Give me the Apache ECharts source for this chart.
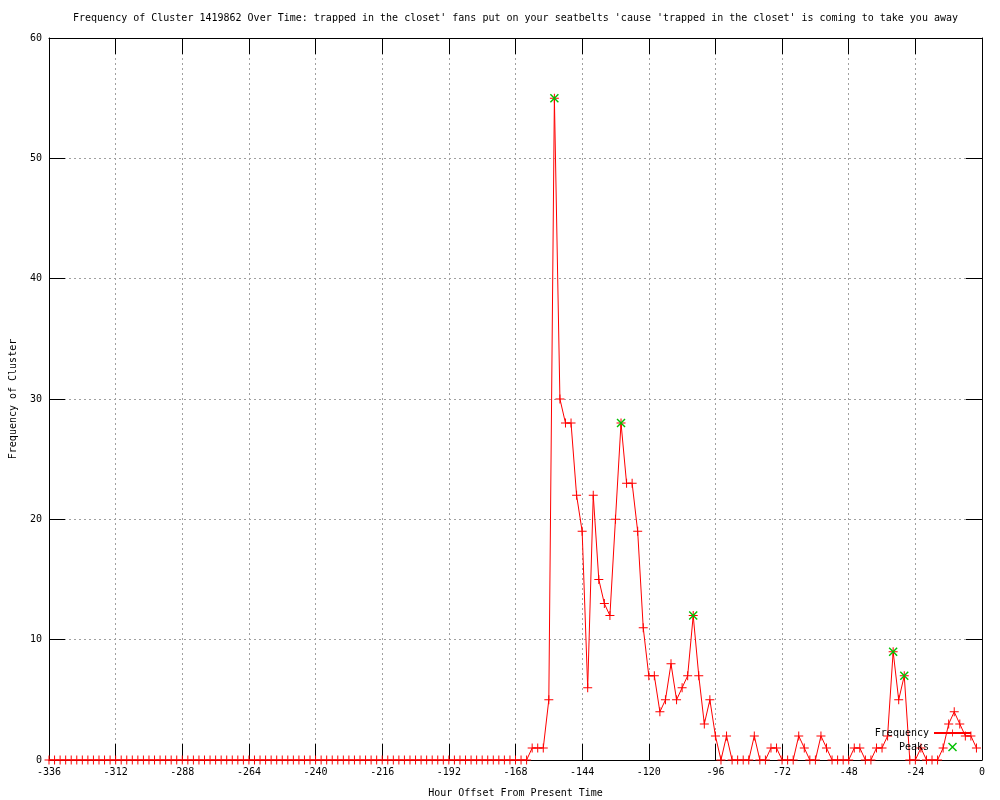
<!DOCTYPE html>
<html>
<head>
<meta charset="utf-8">
<script src="https://cdn.jsdelivr.net/npm/echarts@6/dist/echarts.min.js"></script>
<style>
html,body{margin:0;padding:0;background:#fff;}
#chart{width:1000px;height:800px;}
</style>
</head>
<body>
<div id="chart"></div>
<script>
var titleText = "Frequency of Cluster 1419862 Over Time: trapped in the closet' fans put on your seatbelts 'cause 'trapped in the closet' is coming to take you away";
var xAxisName = "Hour Offset From Present Time";
var yAxisName = "Frequency of Cluster";

var hours = [-336,-334,-332,-330,-328,-326,-324,-322,-320,-318,-316,-314,-312,-310,-308,-306,-304,-302,-300,-298,
-296,-294,-292,-290,-288,-286,-284,-282,-280,-278,-276,-274,-272,-270,-268,-266,-264,-262,-260,-258,
-256,-254,-252,-250,-248,-246,-244,-242,-240,-238,-236,-234,-232,-230,-228,-226,-224,-222,-220,-218,
-216,-214,-212,-210,-208,-206,-204,-202,-200,-198,-196,-194,-192,-190,-188,-186,-184,-182,-180,-178,
-176,-174,-172,-170,-168,-166,-164,-162,-160,-158,-156,-154,-152,-150,-148,-146,-144,-142,-140,-138,
-136,-134,-132,-130,-128,-126,-124,-122,-120,-118,-116,-114,-112,-110,-108,-106,-104,-102,-100,-98,
-96,-94,-92,-90,-88,-86,-84,-82,-80,-78,-76,-74,-72,-70,-68,-66,-64,-62,-60,-58,
-56,-54,-52,-50,-48,-46,-44,-42,-40,-38,-36,-34,-32,-30,-28,-26,-24,-22,-20,-18,
-16,-14,-12,-10,-8,-6,-4,-2];

var frequency = [0,0,0,0,0,0,0,0,0,0,
0,0,0,0,0,0,0,0,0,0,
0,0,0,0,0,0,0,0,0,0,
0,0,0,0,0,0,0,0,0,0,
0,0,0,0,0,0,0,0,0,0,
0,0,0,0,0,0,0,0,0,0,
0,0,0,0,0,0,0,0,0,0,
0,0,0,0,0,0,0,0,0,0,
0,0,0,0,0,0,0,
1,1,1,5,55,30,28,28,22,19,
6,22,15,13,12,20,28,23,23,19,
11,7,7,4,5,8,5,6,7,12,
7,3,5,2,0,2,0,0,0,0,
2,0,0,1,1,0,0,0,2,1,
0,0,2,1,0,0,0,0,1,1,
0,0,1,1,2,9,5,7,0,0,
1,0,0,0,1,3,4,3,2,2,
1];

var peakHours = [-154,-130,-104,-32,-28];
var peakValues = [55,28,12,9,7];

var xTicks = {min:-336, max:0, interval:24};
var yTicks = {min:0, max:60, interval:10};

var freqData = hours.map(function(h,i){return [h, frequency[i]];});
var peakData = peakHours.map(function(h,i){return [h, peakValues[i]];});

var MONO = "'DejaVu Sans Mono', monospace";
var plusPath = 'path://M0,4H9V5H0Z M4,0H5V9H4Z';
var crossPath = 'path://M0,1L1,0L9,8L8,9Z M8,0L9,1L1,9L0,8Z';
var grid = {color:'#a0a0a0', type:[2,3], width:1};

var chart = echarts.init(document.getElementById('chart'), null, {renderer:'canvas'});
chart.setOption({
  animation:false,
  backgroundColor:'#ffffff',
  title:{text:titleText, left:73, top:13, padding:0,
    textStyle:{fontFamily:MONO, fontSize:10, fontWeight:'normal', color:'#000'}},
  grid:{left:49, right:18, top:38, bottom:40, containLabel:false, outerBoundsMode:'none'},
  legend:{
    data:['Frequency','Peaks'], orient:'vertical', right:28, top:728,
    align:'right', itemWidth:37, itemHeight:9, itemGap:4, padding:0,
    textStyle:{fontFamily:MONO, fontSize:10, color:'#000'}
  },
  xAxis:[
    {type:'value', min:xTicks.min, max:xTicks.max, interval:xTicks.interval, position:'bottom',
     name:xAxisName, nameLocation:'middle', nameGap:28,
     nameTextStyle:{fontFamily:MONO, fontSize:10, color:'#000'},
     axisLine:{show:true, onZero:false, lineStyle:{color:'#000', width:1}},
     axisTick:{show:true, inside:true, length:16, lineStyle:{color:'#000'}},
     axisLabel:{fontFamily:MONO, fontSize:10, color:'#000', margin:7},
     splitLine:{show:true, lineStyle:grid}},
    {type:'value', min:xTicks.min, max:xTicks.max, interval:xTicks.interval, position:'top',
     axisLine:{show:true, onZero:false, lineStyle:{color:'#000', width:1}},
     axisTick:{show:true, inside:true, length:16, lineStyle:{color:'#000'}},
     axisLabel:{show:false}, splitLine:{show:false}}
  ],
  yAxis:[
    {type:'value', min:yTicks.min, max:yTicks.max, interval:yTicks.interval, position:'left',
     name:yAxisName, nameLocation:'middle', nameGap:31, nameRotate:90,
     nameTextStyle:{fontFamily:MONO, fontSize:10, color:'#000'},
     axisLine:{show:true, onZero:false, lineStyle:{color:'#000', width:1}},
     axisTick:{show:true, inside:true, length:16, lineStyle:{color:'#000'}},
     axisLabel:{fontFamily:MONO, fontSize:10, color:'#000', margin:7},
     splitLine:{show:true, lineStyle:grid}},
    {type:'value', min:yTicks.min, max:yTicks.max, interval:yTicks.interval, position:'right',
     axisLine:{show:true, onZero:false, lineStyle:{color:'#000', width:1}},
     axisTick:{show:true, inside:true, length:16, lineStyle:{color:'#000'}},
     axisLabel:{show:false}, splitLine:{show:false}}
  ],
  series:[
    {name:'Frequency', type:'line', xAxisIndex:0, yAxisIndex:0, data:freqData,
     symbol:plusPath, symbolSize:9, showAllSymbol:true, clip:false,
     lineStyle:{color:'#ff0000', width:1}, itemStyle:{color:'#ff0000'}, z:3},
    {name:'Peaks', type:'scatter', xAxisIndex:0, yAxisIndex:0, data:peakData,
     symbol:crossPath, symbolSize:9, symbolKeepAspect:true,
     itemStyle:{color:'#00c000', opacity:1}, z:4}
  ]
});
</script>
</body>
</html>
